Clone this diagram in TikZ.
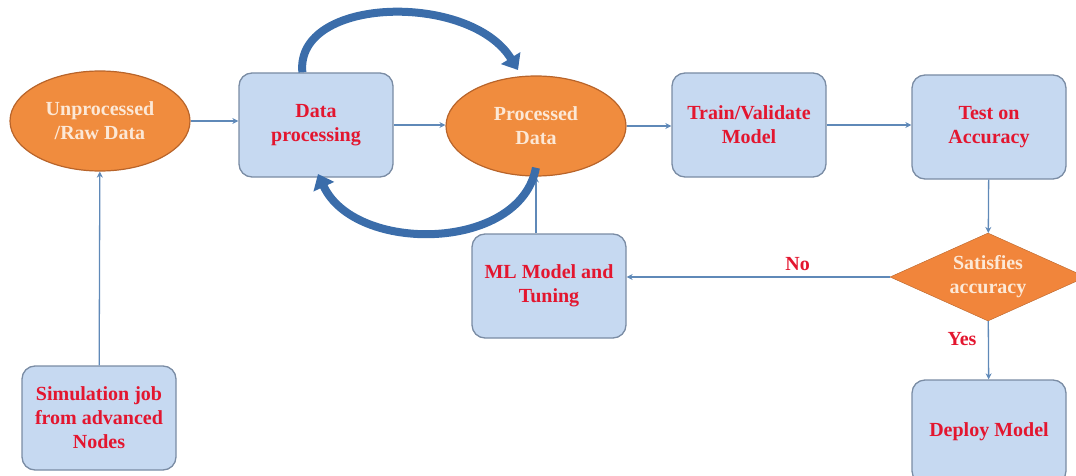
\documentclass[tikz,border=0pt]{standalone}
\usepackage{fontspec}
\setmainfont{Liberation Serif}
\usetikzlibrary{arrows.meta,shapes.geometric}
\definecolor{flowred}{HTML}{E3162F}
\definecolor{flowcream}{HTML}{FCE8D6}
\definecolor{floworange}{HTML}{F08C3E}
\definecolor{flowrim}{HTML}{B8642A}
\definecolor{flowbox}{HTML}{C6D9F1}
\definecolor{flowedge}{HTML}{7A8CA4}
\definecolor{flowline}{HTML}{5F89B8}
\definecolor{flowloop}{HTML}{3B6DAA}
\tikzset{
  txt/.style={font=\fontsize{20}{24}\selectfont\bfseries, align=center},
  proc/.style={txt, draw=flowedge, line width=1.3pt, fill=flowbox, rounded corners=13pt,
    minimum width=154pt, minimum height=104pt, text=flowred},
  dat/.style={txt, ellipse, draw=flowrim, line width=1.2pt, fill=floworange,
    minimum width=180pt, minimum height=100pt, text=flowcream, inner sep=0pt},
  dec/.style={txt, diamond, aspect=2.25, draw=flowrim, fill=floworange!95!red,
    minimum width=196pt, minimum height=88pt, text=flowcream, inner sep=0pt},
  arr/.style={-{Stealth[length=6pt,width=6pt]}, line width=1.3pt, color=flowline},
  loop/.style={-{Triangle[length=14pt,width=22pt]}, line width=8pt, color=flowloop},
  lbl/.style={txt, text=flowred},
}
\begin{document}
\begin{tikzpicture}[x=1pt, y=-1pt]
  \useasboundingbox (0,0) rectangle (1076,476);
  % shapes
  \node[dat] (raw) at (100,121) {Unprocessed\\/Raw Data};
  \node[proc] (prep) at (316,125) {Data\\processing};
  \node[dat] (clean) at (536,126) {Processed\\Data};
  \node[proc] (train) at (749,125) {Train/Validate\\Model};
  \node[proc] (test) at (989,127) {Test on\\Accuracy};
  \node[dec] (check) at (988,277) {\bfseries Satisfies\\\bfseries accuracy};
  \node[proc] (tune) at (549,286) {ML Model and\\Tuning};
  \node[proc] (sim) at (99,418) {Simulation job\\from advanced\\Nodes};
  \node[proc] (deploy) at (989,432) {Deploy Model};
  % connectors
  \draw[arr] (raw.east) -- (raw.east -| prep.west);
  \draw[arr] (prep.east) -- (prep.east -| clean.west);
  \draw[arr] (clean.east) -- (clean.east -| train.west);
  \draw[arr] (train.east) -- (train.east -| test.west);
  \draw[arr] (test) -- (check);
  \draw[arr] (check.west) -- node[lbl, above=2pt, pos=0.35] {No} (check.west -| tune.east);
  \draw[arr] (check) -- node[lbl, left=8pt, pos=0.3] {Yes} (deploy);
  \draw[arr] (tune.north -| clean.south) -- (clean.south);
  \draw[arr] (sim) -- (raw);
  % refinement loop
  \draw[loop] (prep.north west) ++(64,0) .. controls (295,-4) and (470,-8) .. (518,70);
  \draw[loop] (clean.south west) ++(64,6) .. controls (520,252) and (355,254) .. (318,174);
\end{tikzpicture}
\end{document}
